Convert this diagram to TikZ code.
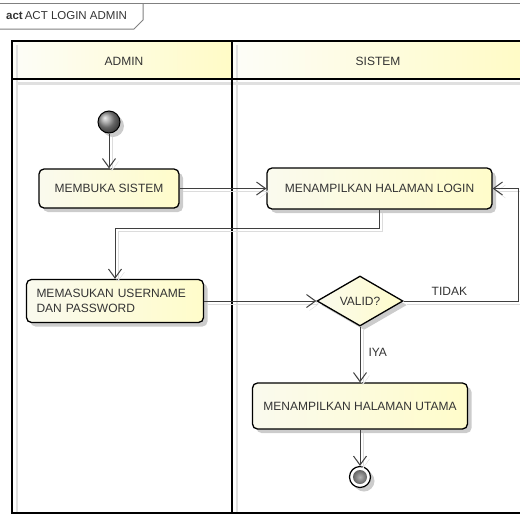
\documentclass[tikz,border=0pt]{standalone}
\usepackage{fontspec}
\setmainfont{Liberation Sans}
\usetikzlibrary{arrows.meta,shapes.geometric,shadows}

\definecolor{boxL}{HTML}{FAFAEE}
\definecolor{boxR}{HTML}{FFFCCA}
\definecolor{hdrL}{HTML}{FDFDF8}
\definecolor{hdrR}{HTML}{FFFBC6}
\definecolor{ink}{HTML}{333333}
\definecolor{wire}{HTML}{3F3F3F}
\definecolor{wireshade}{HTML}{DCDCDC}
\definecolor{frameline}{HTML}{808080}
\definecolor{laneshade}{HTML}{E0E0E0}

\begin{document}
\begin{tikzpicture}[x=1pt,y=-1pt,
  font=\fontsize{12}{15}\selectfont,
  every node/.style={text=ink},
  boxshadow/.style={drop shadow={shadow xshift=4pt,shadow yshift=-4pt,fill=black!20,opacity=1}},
  actbox/.style={rectangle, rounded corners=5pt, draw=black, line width=1.3pt,
    left color=boxL, right color=boxR, boxshadow, inner sep=0pt},
  decision/.style={diamond, draw=black, line width=1.3pt, left color=boxL, right color=boxR,
    boxshadow, minimum width=86pt, minimum height=50pt, inner sep=0pt},
  startdot/.style={circle, draw=black, line width=1pt, minimum size=22pt, inner sep=0pt,
    ball color=gray!85, boxshadow},
  enddot/.style={circle, draw=black, line width=1.2pt, fill=white, minimum size=21pt, inner sep=0pt,
    boxshadow, path picture={\shade[inner color=gray!60, outer color=black!75]
      (path picture bounding box.center) circle (7pt);}},
  wire/.style={draw=wire, line width=1pt, -{Straight Barb[length=9pt,width=13pt]},
    preaction={draw=wireshade, transform canvas={shift={(3pt,-3pt)}}}},
  lane/.style={draw=black, line width=2pt},
  lanetitle/.style={font=\fontsize{12}{14}\selectfont},
  guard/.style={font=\fontsize{12}{14}\selectfont, inner sep=1pt}
]
\useasboundingbox (0,0) rectangle (520,515);

% diagram frame and name tab
\draw[frameline, line width=1pt] (0,3) -- (520,3);
\draw[frameline, line width=1pt] (0,29) -- (134,29) -- (143,20) -- (143,3);
\node[anchor=west, font=\fontsize{11.5}{13}\selectfont, inner sep=0pt] (title) at (6,16)
  {{\bfseries act}\hspace{2pt}ACT LOGIN ADMIN};

% swimlane headers
\shade[left color=hdrL, right color=hdrR] (12,41) rectangle (232,79);
\shade[left color=hdrL, right color=hdrR] (232,41) rectangle (522,79);
% swimlane shading
\draw[laneshade, line width=2.5pt] (17,45) -- (17,513);
\draw[laneshade, line width=2.5pt] (237,45) -- (237,513);
\draw[laneshade, line width=3pt] (17,83) -- (522,83);
% swimlane borders
\draw[lane] (522,41) -- (12,41) -- (12,513) -- (522,513);
\draw[lane] (12,79) -- (522,79);
\draw[lane] (232,41) -- (232,513);
\node[lanetitle] (laneA) at (124,61) {ADMIN};
\node[lanetitle] (laneS) at (378,61) {SISTEM};

% activity nodes
\node[startdot] (init) at (109,122) {};
\node[actbox, minimum width=140pt, minimum height=39pt] (a1) at (109,188.5) {MEMBUKA SISTEM};
\node[actbox, minimum width=225pt, minimum height=41pt] (s1) at (379.5,188.5) {MENAMPILKAN HALAMAN LOGIN};
\node[actbox, minimum width=177pt, minimum height=43pt, align=left, text width=157pt,
  inner xsep=10pt] (a2) at (115,301) {MEMASUKAN USERNAME\\DAN PASSWORD};
\node[decision] (d) at (360,301) {VALID?};
\node[actbox, minimum width=215pt, minimum height=46pt] (s2) at (360,406) {MENAMPILKAN HALAMAN UTAMA};
\node[enddot] (fin) at (360,477) {};

% bend points
\coordinate (k1) at (115,228);
\coordinate (k2) at (518,301);

% control flow
\draw[wire] (init) -- (a1);
\draw[wire] (a1) -- (s1);
\draw[wire] (s1.south) |- (k1) -- (a2.north);
\draw[wire] (a2) -- (d);
\draw[wire] (d.east) -- node[guard, pos=0.4, above=4pt] {TIDAK} (k2) |- (s1.east);
\draw[wire] (d.south) -- node[guard, pos=0.47, right=7pt] {IYA} (s2.north);
\draw[wire] (s2) -- (fin);
\end{tikzpicture}
\end{document}
